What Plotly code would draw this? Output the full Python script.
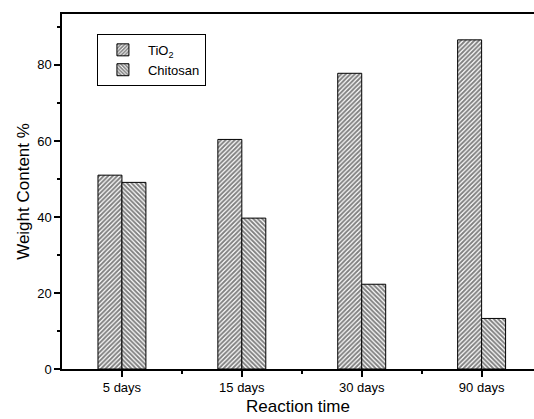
import plotly.graph_objects as go

categories = ["5 days", "15 days", "30 days", "90 days"]
tio2 = [51.0, 60.4, 77.8, 86.6]
chitosan = [49.1, 39.7, 22.3, 13.3]
y_ticks = [0, 20, 40, 60, 80]

xpos = list(range(len(categories)))
font = "Liberation Sans, Arial, sans-serif"

pat = dict(size=3.2, solidity=0.6, fgcolor="black", bgcolor="white")

fig = go.Figure()
fig.add_trace(go.Bar(
    x=xpos, y=tio2, name="TiO<sub>2</sub>",
    marker=dict(color="white", line=dict(color="black", width=1),
                pattern=dict(shape="/", **pat)),
))
fig.add_trace(go.Bar(
    x=xpos, y=chitosan, name="Chitosan",
    marker=dict(color="white", line=dict(color="black", width=1),
                pattern=dict(shape="\\", **pat)),
))

fig.update_layout(
    width=534, height=419,
    margin=dict(l=62, r=0, t=14, b=50, autoexpand=False),
    paper_bgcolor="white", plot_bgcolor="white",
    barmode="group", bargap=0.6, bargroupgap=0,
    font=dict(family=font, size=13, color="black"),
    legend=dict(x=0.074, y=0.944, xanchor="left", yanchor="top",
                bordercolor="black", borderwidth=1, bgcolor="white",
                font=dict(size=13), tracegroupgap=0, itemwidth=40),
    showlegend=True,
)
fig.update_xaxes(
    automargin=False,
    range=[-0.5, 3.437], tickmode="array", tickvals=xpos, ticktext=categories,
    showline=True, linecolor="black", linewidth=1.5, mirror=True,
    ticks="outside", ticklen=6, tickwidth=1.5, tickcolor="black",
    minor=dict(tickmode="array", tickvals=[0.5, 1.5, 2.5], ticks="outside", ticklen=3, tickwidth=1.5, tickcolor="black"),
    showgrid=False, zeroline=False,
    title=dict(text="Reaction time", font=dict(size=17), standoff=6),
    tickfont=dict(size=13),
)
fig.update_yaxes(
    automargin=False,
    range=[0, 93.4], tickmode="array", tickvals=y_ticks,
    showline=True, linecolor="black", linewidth=1.5, mirror=False,
    ticks="outside", ticklen=6, tickwidth=1.5, tickcolor="black",
    minor=dict(dtick=10, ticks="outside", ticklen=3, tickwidth=1.5, tickcolor="black", showgrid=False),
    showgrid=False, zeroline=False,
    title=dict(text="Weight Content %", font=dict(size=17), standoff=3),
    tickfont=dict(size=13),
)

fig.write_html(
    "out.html",
    config={"displayModeBar": False},
    post_script="document.body.style.margin='0';document.body.style.overflow='hidden';",
)
